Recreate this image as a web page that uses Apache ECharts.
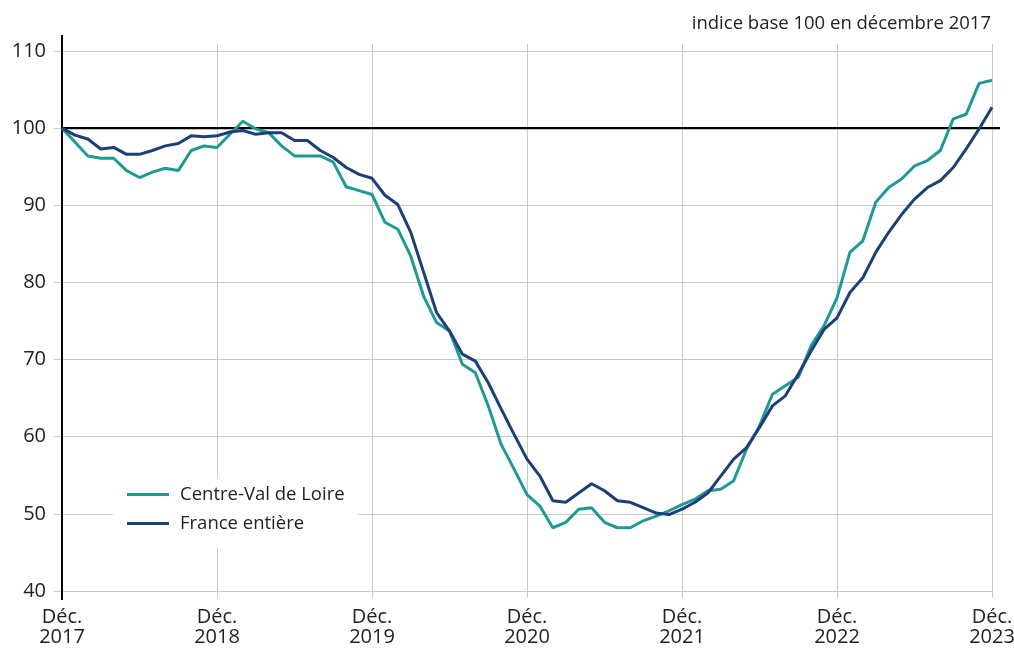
<!DOCTYPE html>
<html>
<head>
<meta charset="utf-8">
<script src="https://cdn.jsdelivr.net/npm/echarts@6/dist/echarts.min.js"></script>
<style>
html,body{margin:0;padding:0;background:#fff;}
#c{width:1014px;height:648px;}
</style>
</head>
<body>
<div id="c"></div>
<script>
const months = [
"2017-12",
"2018-01","2018-02","2018-03","2018-04","2018-05","2018-06","2018-07","2018-08","2018-09","2018-10","2018-11","2018-12",
"2019-01","2019-02","2019-03","2019-04","2019-05","2019-06","2019-07","2019-08","2019-09","2019-10","2019-11","2019-12",
"2020-01","2020-02","2020-03","2020-04","2020-05","2020-06","2020-07","2020-08","2020-09","2020-10","2020-11","2020-12",
"2021-01","2021-02","2021-03","2021-04","2021-05","2021-06","2021-07","2021-08","2021-09","2021-10","2021-11","2021-12",
"2022-01","2022-02","2022-03","2022-04","2022-05","2022-06","2022-07","2022-08","2022-09","2022-10","2022-11","2022-12",
"2023-01","2023-02","2023-03","2023-04","2023-05","2023-06","2023-07","2023-08","2023-09","2023-10","2023-11","2023-12"
];
const centreValDeLoire = [
100,
98.2,96.4,96.1,96.1,94.5,93.6,94.3,94.8,94.5,97.1,97.7,97.5,
99.2,100.9,99.9,99.4,97.7,96.4,96.4,96.4,95.6,92.4,91.9,91.4,
87.8,86.9,83.4,78.2,74.8,73.7,69.4,68.3,64.0,59.0,55.8,52.5,
51.0,48.2,48.9,50.6,50.8,48.9,48.2,48.2,49.1,49.7,50.4,51.2,
51.9,53.0,53.2,54.3,58.4,61.4,65.5,66.6,67.7,71.8,74.4,78.0,
83.9,85.4,90.4,92.3,93.4,95.1,95.8,97.1,101.2,101.8,105.8,106.2
];
const franceEntiere = [
100,
99.1,98.6,97.3,97.5,96.6,96.6,97.1,97.7,98.0,99.0,98.9,99.0,
99.5,99.7,99.2,99.4,99.4,98.4,98.4,97.1,96.2,94.9,94.0,93.5,
91.3,90.1,86.5,81.3,76.1,73.7,70.7,69.8,67.0,63.6,60.3,57.1,
54.9,51.7,51.5,52.7,53.9,53.0,51.7,51.5,50.8,50.1,49.9,50.6,
51.5,52.7,54.9,57.1,58.6,61.2,64.0,65.3,68.1,71.1,73.9,75.4,
78.7,80.6,83.9,86.5,88.8,90.8,92.3,93.2,94.9,97.3,99.9,102.7
];
const seriesNames = ["Centre-Val de Loire", "France entière"];
const baseValue = 100;
const subtitle = "indice base 100 en décembre 2017";
const yTicks = [40, 50, 60, 70, 80, 90, 100, 110];

const FONT = '"Open Sans", "Noto Sans", sans-serif';
const GRID = '#c9c9c9';
const TEAL = '#1f9a93';
const NAVY = '#1c3f78';
const TXT = '#222';

const chart = echarts.init(document.getElementById('c'), null, {renderer: 'canvas'});
const option = {
  animation: false,
  backgroundColor: '#fff',
  textStyle: {fontFamily: FONT},
  title: {
    text: subtitle,
    right: 18, top: 9,
    textStyle: {fontFamily: FONT, fontSize: 18.5, fontWeight: 'normal', color: TXT}
  },
  grid: {left: 62, right: 22, top: 51, bottom: 57, containLabel: false, outerBoundsMode: 'none'},
  legend: {
    orient: 'vertical',
    left: 113, top: 478,
    backgroundColor: '#fff',
    padding: [6, 14, 14, 14],
    itemGap: 8,
    itemWidth: 42, itemHeight: 3,
    icon: 'rect',
    textStyle: {fontFamily: FONT, fontSize: 18.5, color: TXT, lineHeight: 21, padding: [0, 0, 0, 6]},
    data: seriesNames
  },
  xAxis: [{
    type: 'category',
    data: months,
    boundaryGap: false,
    axisLine: {show: true, lineStyle: {color: GRID, width: 1}},
    axisTick: {show: true, interval: 11, length: 7, lineStyle: {color: GRID}},
    splitLine: {show: true, interval: 11, lineStyle: {color: GRID, width: 1}},
    axisLabel: {
      interval: 11,
      margin: 16,
      fontFamily: FONT, fontSize: 20, color: TXT, lineHeight: 20,
      formatter: v => 'Déc.\n' + v.slice(0, 4)
    }
  }, {
    type: 'category',
    data: months,
    position: 'top',
    boundaryGap: false,
    axisLine: {show: false},
    axisTick: {show: true, interval: 11, length: 7, lineStyle: {color: GRID}},
    axisLabel: {show: false},
    splitLine: {show: false}
  }],
  yAxis: {
    type: 'value',
    min: yTicks[0], max: yTicks[yTicks.length - 1], interval: 10,
    axisLine: {show: true, onZero: false, lineStyle: {color: '#000', width: 2}},
    axisTick: {show: true, length: 8, lineStyle: {color: GRID}},
    splitLine: {show: true, lineStyle: {color: GRID, width: 1}},
    axisLabel: {margin: 16, fontFamily: FONT, fontSize: 20, color: TXT}
  },
  series: [{
    name: seriesNames[0],
    type: 'line',
    data: centreValDeLoire,
    symbol: 'none',
    lineStyle: {color: TEAL, width: 3},
    itemStyle: {color: TEAL},
    z: 3
  }, {
    name: seriesNames[1],
    type: 'line',
    data: franceEntiere,
    symbol: 'none',
    lineStyle: {color: NAVY, width: 3},
    itemStyle: {color: NAVY},
    z: 4
  }]
};
chart.setOption(option);

const x0 = chart.convertToPixel({xAxisIndex: 0}, months[0]);
const x1 = chart.convertToPixel({xAxisIndex: 0}, months[months.length - 1]);
const yTop = chart.convertToPixel({yAxisIndex: 0}, yTicks[yTicks.length - 1]);
const yBot = chart.convertToPixel({yAxisIndex: 0}, yTicks[0]);
const yBase = chart.convertToPixel({yAxisIndex: 0}, baseValue);
chart.setOption({
  graphic: [{
    type: 'line', z: 1,
    shape: {x1: x0, y1: yTop - 16, x2: x0, y2: yBot + 9},
    style: {stroke: '#000', lineWidth: 2}
  }, {
    type: 'line', z: 1,
    shape: {x1: x0, y1: yBase, x2: x1 + 8, y2: yBase},
    style: {stroke: '#000', lineWidth: 2.2}
  }]
});
</script>
</body>
</html>
